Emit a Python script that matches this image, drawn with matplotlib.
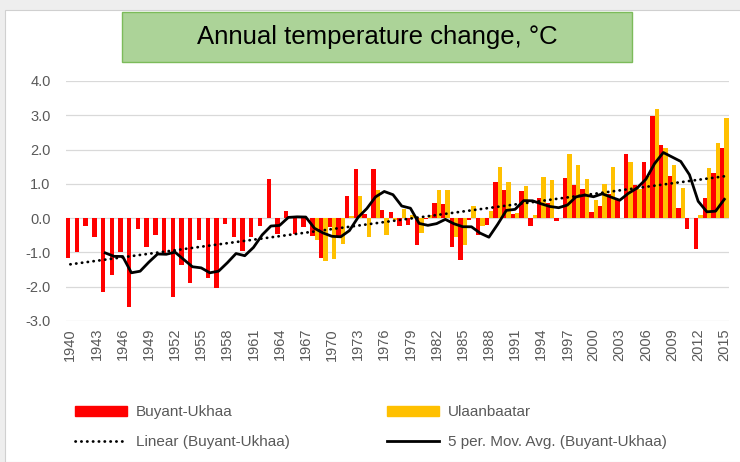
import matplotlib.pyplot as plt
import matplotlib.patches as patches
from matplotlib.lines import Line2D
import numpy as np
import pandas as pd

plt.rcParams["font.family"] = ["Liberation Sans", "DejaVu Sans"]
plt.rcParams["axes.unicode_minus"] = False

# -----------------------------
# data
# -----------------------------
years = np.arange(1940, 2016)

buyant_ukhaa = [
    -1.17, -0.98, -0.22, -0.54, -2.16, -1.67, -1.00, -2.60, -0.31, -0.84,
    -0.48, -1.04, -2.29, -1.38, -1.90, -0.64, -1.76, -2.05, -0.16, -0.55,
    -0.96, -0.55, -0.22, 1.13, -0.46, 0.21, -0.47, -0.25, -0.51, -1.15,
    -0.27, -0.54, 0.65, 1.43, 0.13, 1.43, 0.25, 0.18, -0.22, -0.19,
    -0.79, -0.03, 0.43, 0.40, -0.83, -1.22, -0.04, -0.50, -0.19, 1.04,
    0.82, 0.11, 0.78, -0.22, 0.60, 0.43, -0.07, 1.17, 0.98, 0.86,
    0.18, 0.36, 0.69, 0.52, 1.87, 0.96, 1.63, 2.97, 2.14, 1.22,
    0.31, -0.31, -0.90, 0.60, 1.32, 2.04,
]

ulaanbaatar = [np.nan] * 28 + [
    -0.63, -1.24, -1.18, -0.75, 0.06, 0.65, -0.54, 0.83, -0.49, -0.05,
    0.27, 0.09, -0.43, 0.09, 0.82, 0.82, -0.56, -0.78, 0.35, -0.22,
    0.20, 1.49, 1.05, 0.15, 0.95, 0.09, 1.19, 1.11, 0.00, 1.87,
    1.54, 1.13, 0.54, 1.01, 1.49, 0.00, 1.63, 0.86, 1.22, 3.17,
    2.04, 1.54, 0.89, 0.00, 0.09, 1.46, 2.19, 2.93,
]

tick_years = np.arange(1940, 2016, 3)

# trend + moving average of Buyant-Ukhaa
bu = pd.Series(buyant_ukhaa, index=years)
mov_avg = bu.rolling(5).mean()
coef = np.polyfit(years, bu.values, 1)
trend = np.polyval(coef, years)

# -----------------------------
# figure
# -----------------------------
W, H = 740, 462
fig = plt.figure(figsize=(W / 100, H / 100), dpi=100, facecolor="#eeeeee")

# white chart area
fig.patches.append(
    patches.Rectangle(
        (5 / W, 0), 1, (H - 10) / H,
        transform=fig.transFigure, facecolor="white",
        edgecolor="#d0d0d0", linewidth=0.8, zorder=-10,
    )
)

ax = fig.add_axes([66 / W, (H - 321) / H, (728.7 - 66) / W, 240 / H])
ax.set_facecolor("none")

red = "#ff0000"
gold = "#ffc000"

ax.bar(years - 0.25, buyant_ukhaa, width=0.5, color=red, zorder=2)
ax.bar(years + 0.25, ulaanbaatar, width=0.5, color=gold, zorder=2)
ax.plot(years, trend, color="black", linewidth=2.0,
        linestyle=(0, (0.1, 2.0)), dash_capstyle="round", zorder=3)
ax.plot(years, mov_avg.values, color="black", linewidth=2.0, zorder=4)

ax.set_xlim(1939.5, 2015.5)
ax.set_ylim(-3, 4)
ax.set_yticks(np.arange(-3, 4.5, 1))
ax.set_yticklabels([f"{v:.1f}" for v in np.arange(-3, 4.5, 1)])
ax.set_xticks(tick_years)
ax.set_xticklabels([str(y) for y in tick_years], rotation=90)

ax.grid(axis="y", color="#d9d9d9", linewidth=0.9, zorder=0)
ax.set_axisbelow(True)
for s in ax.spines.values():
    s.set_visible(False)
ax.tick_params(axis="both", length=0, labelsize=10.5, labelcolor="#595959")
ax.tick_params(axis="y", pad=11)
ax.tick_params(axis="x", pad=5)

# -----------------------------
# title box
# -----------------------------
fig.patches.append(
    patches.Rectangle(
        (122 / W, (H - 62) / H), 510 / W, 50 / H,
        transform=fig.transFigure, facecolor="#acd398",
        edgecolor="#7cbb5a", linewidth=1.0, zorder=5,
    )
)
fig.text(377 / W, (H - 37) / H, "Annual temperature change, °C",
         ha="center", va="center", fontsize=18.5, color="black", zorder=6)

# -----------------------------
# legend (two columns)
# -----------------------------
h_red = patches.Patch(color=red)
h_gold = patches.Patch(color=gold)
h_trend = Line2D([], [], color="black", linewidth=2.0,
                 linestyle=(0, (0.1, 2.0)), dash_capstyle="round")
h_ma = Line2D([], [], color="black", linewidth=2.0)

leg_kw = dict(frameon=False, fontsize=11, labelcolor="#595959",
              handlelength=3.4, handleheight=0.65, handletextpad=0.6,
              labelspacing=1.05, borderpad=0, borderaxespad=0, loc="upper left")

leg1 = fig.legend([h_red, h_trend], ["Buyant-Ukhaa", "Linear (Buyant-Ukhaa)"],
                  bbox_to_anchor=(75 / W, (H - 405) / H), **leg_kw)
leg2 = fig.legend([h_gold, h_ma], ["Ulaanbaatar", "5 per. Mov. Avg. (Buyant-Ukhaa)"],
                  bbox_to_anchor=(387 / W, (H - 405) / H), **leg_kw)

plt.savefig("out.png", dpi=100, facecolor=fig.get_facecolor())
